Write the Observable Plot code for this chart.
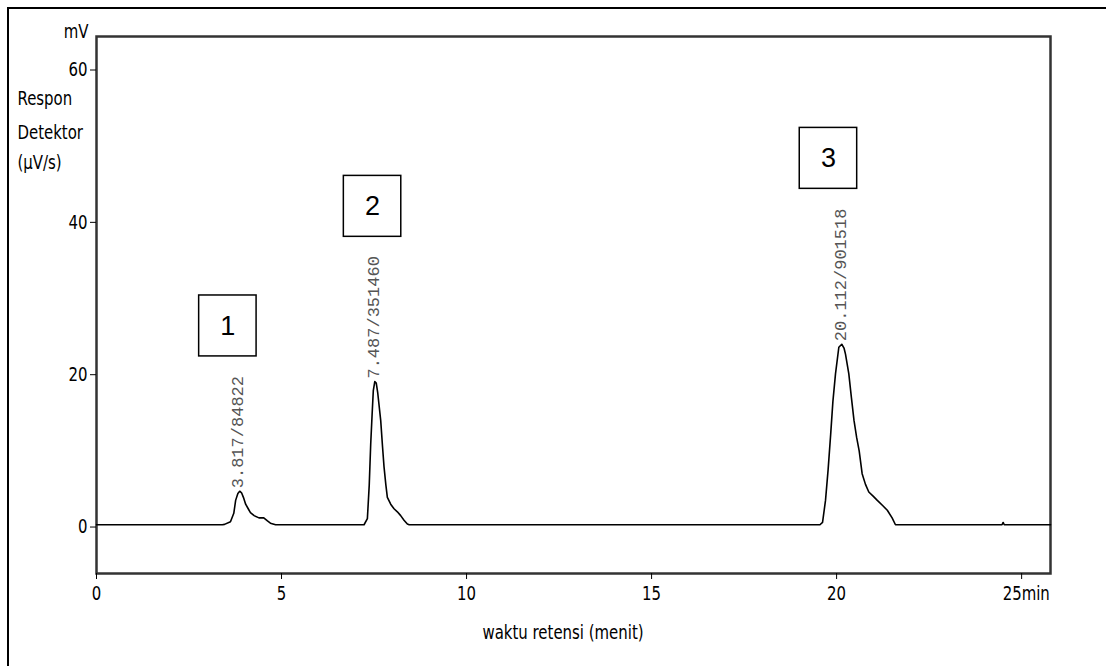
<!DOCTYPE html>
<html><head><meta charset="utf-8">
<script src="https://cdn.jsdelivr.net/npm/d3@7"></script>
<script src="https://cdn.jsdelivr.net/npm/@observablehq/plot@0.6"></script>
<style>
body{margin:0;background:#fff;}
#wrap{position:relative;width:1106px;height:666px;overflow:hidden;background:#fff;}
#border{position:absolute;left:7px;top:7px;width:1200px;height:800px;border:2px solid #000;}
#chart{position:absolute;left:0;top:0;}
</style></head><body>
<div id="wrap"><div id="border"></div><div id="chart"></div></div>
<script>
// chromatogram trace (retention time in min, detector response in mV)
const times = [0, 3.40, 3.46, 3.62, 3.71, 3.76, 3.82, 3.87, 3.92, 3.97, 4.03, 4.10, 4.16, 4.26, 4.39, 4.52, 4.62, 4.70, 4.84,
  7.23, 7.32, 7.37, 7.41, 7.45, 7.48, 7.52, 7.56, 7.60, 7.68, 7.73, 7.77, 7.82, 7.86, 7.95, 8.04, 8.13, 8.22, 8.31, 8.40, 8.45,
  19.55, 19.62, 19.70, 19.77, 19.84, 19.90, 19.97, 20.06, 20.14, 20.20, 20.24, 20.33, 20.40, 20.47, 20.54, 20.61, 20.69, 20.78, 20.87, 21.00, 21.10, 21.25, 21.37, 21.50, 21.59,
  24.47, 24.50, 24.53, 25.78];
const signal = [0.3, 0.3, 0.35, 0.7, 1.8, 3.5, 4.4, 4.7, 4.5, 3.9, 3.0, 2.4, 1.9, 1.5, 1.2, 1.2, 0.8, 0.5, 0.3,
  0.3, 1.1, 5.5, 10.9, 15.0, 17.9, 19.1, 18.9, 17.6, 14.0, 10.5, 7.9, 5.5, 3.9, 3.0, 2.4, 2.0, 1.5, 0.9, 0.4, 0.3,
  0.3, 0.6, 3.5, 7.5, 12.2, 16.5, 20.1, 23.6, 24.0, 23.5, 22.7, 20.1, 17.0, 14.0, 11.8, 10.0, 7.0, 5.6, 4.6, 4.0, 3.5, 2.8, 2.2, 1.2, 0.3,
  0.3, 0.6, 0.3, 0.3];

const xTicks = [0, 5, 10, 15, 20, 25];
const yTicks = [0, 20, 40, 60];
const xUnit = "min";
const yUnit = "mV";
const yTitle = ["Respon", "Detektor", "(μV/s)"];
const xTitle = "waktu retensi (menit)";

const peakTimes = [3.817, 7.487, 20.112];
const peakHeights = [4.7, 19.1, 24.0];
const peakLabels = ["3.817/84822", "7.487/351460", "20.112/901518"];

const boxLabels = ["1", "2", "3"];
const boxTimes = [3.55, 7.46, 19.78];
const boxLevels = [26.4, 42.1, 48.4];

const trace = times.map((t, i) => ({t, v: signal[i]}));
const peaks = peakTimes.map((t, i) => ({t, v: peakHeights[i], label: peakLabels[i]}));
const boxes = boxTimes.map((t, i) => ({t, v: boxLevels[i], label: boxLabels[i]}));

const axisFont = "'DejaVu Sans Condensed', 'DejaVu Sans', sans-serif";
const titleDy = [58, 92, 122];

const chart = Plot.plot({
  width: 1106,
  height: 666,
  marginLeft: 96,
  marginTop: 36,
  marginRight: 56,
  marginBottom: 93,
  style: {background: "transparent", fontFamily: axisFont, fontSize: "20px", color: "#000"},
  x: {domain: [0, 25.78]},
  y: {domain: [-6.1, 64.4]},
  marks: [
    Plot.frame({stroke: "#333", strokeWidth: 2.5}),
    Plot.axisX({ticks: xTicks, tickSize: 6, tickPadding: 6, tickFormat: d => d === 25 ? "" : String(d), label: null, fontSize: 20}),
    Plot.text([`25${xUnit}`], {text: d => d, x: () => 25, frameAnchor: "bottom", textAnchor: "start", lineAnchor: "top", dx: -19, dy: 12, fontSize: 20}),
    Plot.axisY({ticks: yTicks, tickSize: 6, tickPadding: 3, label: null, fontSize: 20}),
    Plot.text([yUnit], {text: d => d, frameAnchor: "top-left", textAnchor: "end", lineAnchor: "top", dx: -8, dy: -13, fontSize: 20}),
    ...yTitle.map((s, i) => Plot.text([s], {text: d => d, frameAnchor: "top-left", textAnchor: "start", lineAnchor: "top", dx: -79, dy: titleDy[i] - 4, fontSize: 20})),
    Plot.text([xTitle], {text: d => d, frameAnchor: "bottom", textAnchor: "start", lineAnchor: "top", dx: -91, dy: 51, fontSize: 20}),
    Plot.line(trace, {x: "t", y: "v", stroke: "#000", strokeWidth: 1.6, curve: "linear"}),
    Plot.text(peaks, {x: "t", y: "v", text: "label", rotate: -90, textAnchor: "start", lineAnchor: "middle", dy: -3, fontFamily: "'Liberation Mono', 'DejaVu Sans Mono', monospace", fontSize: 17, fill: "#555"}),
    Plot.rect(boxes, {x1: d => d.t - 0.776, x2: d => d.t + 0.776, y1: d => d.v - 4.0, y2: d => d.v + 4.0, fill: "#fff", stroke: "#000", strokeWidth: 1.5}),
    Plot.text(boxes, {x: "t", y: "v", text: "label", fontFamily: "'Liberation Sans', Arial, sans-serif", fontSize: 27, fill: "#000", lineAnchor: "middle"})
  ]
});
document.getElementById("chart").appendChild(chart);
// narrow the axis lettering like the instrument's condensed font
d3.select(chart)
  .selectAll("text")
  .filter(function () {
    const g = this.closest("g");
    return !(g && g.getAttribute("font-family"));
  })
  .each(function () {
    const L = this.getComputedTextLength();
    this.setAttribute("textLength", (L * 0.83).toFixed(1));
    this.setAttribute("lengthAdjust", "spacingAndGlyphs");
  });
</script>
</body></html>
